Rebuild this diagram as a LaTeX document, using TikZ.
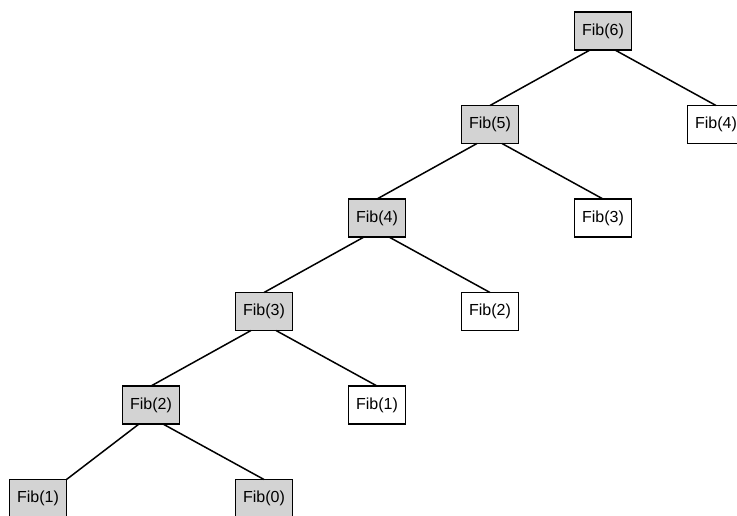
\documentclass[tikz,border=0pt]{standalone}
\usepackage{fontspec}
\setmainfont{Liberation Sans}
\usetikzlibrary{positioning}
\definecolor{callgray}{HTML}{D3D3D3}
\tikzset{
  fibbox/.style={draw=black, line width=1.5pt, rectangle, outer sep=0pt,
                 minimum width=57pt, minimum height=38pt, inner sep=2pt,
                 font=\fontsize{16}{19}\selectfont},
  callbox/.style={fibbox, fill=callgray},
  leafbox/.style={fibbox, fill=white},
  edge/.style={line width=1.5pt, black},
}
\begin{document}
\begin{tikzpicture}[x=1pt, y=-1pt, node distance=55.5pt and 56pt]

  \useasboundingbox (0,0) rectangle (737,516);

  %% ── Recursive calls (left branch, shaded) ────────────────────────────────

  \node[callbox] (c6) at (603,31) {Fib(6)};
  \node[callbox, below left=of c6] (c5) {Fib(5)};
  \node[callbox, below left=of c5] (c4) {Fib(4)};
  \node[callbox, below left=of c4] (c3) {Fib(3)};
  \node[callbox, below left=of c3] (c2) {Fib(2)};
  \node[callbox, below left=of c2] (c1) {Fib(1)};

  %% ── Reused results (right branch, plain) ─────────────────────────────────

  \node[leafbox, below right=of c6] (m4) {Fib(4)};
  \node[leafbox, below right=of c5] (m3) {Fib(3)};
  \node[leafbox, below right=of c4] (m2) {Fib(2)};
  \node[leafbox, below right=of c3] (m1) {Fib(1)};
  \node[callbox, below right=of c2] (m0) {Fib(0)};

  %% ── Edges ────────────────────────────────────────────────────────────────

  \foreach \p/\l/\r in {c6/c5/m4, c5/c4/m3, c4/c3/m2, c3/c2/m1} {
    \draw[edge] ([xshift=-13pt]\p.south) -- (\l.north);
    \draw[edge] ([xshift=12pt]\p.south) -- (\r.north);
  }
  \draw[edge] ([xshift=-12pt]c2.south) -- (c1.north east);
  \draw[edge] ([xshift=12pt]c2.south) -- (m0.north);

\end{tikzpicture}
\end{document}
